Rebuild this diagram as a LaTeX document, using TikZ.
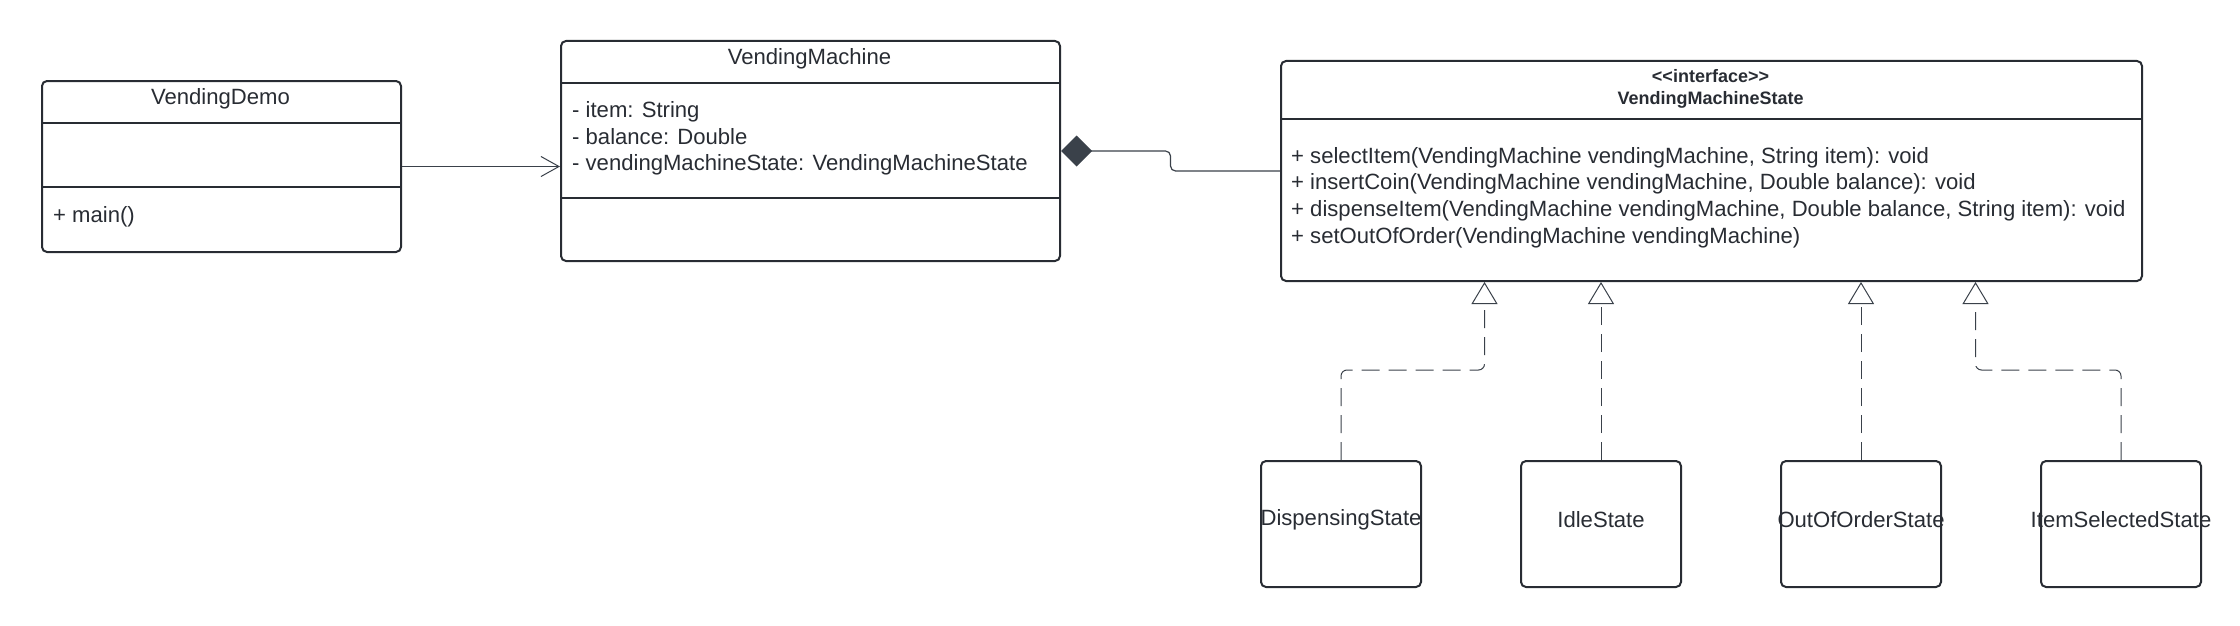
\documentclass[tikz,border=0pt]{standalone}
\usepackage{fontspec}
\setmainfont{Liberation Sans}
\usetikzlibrary{arrows.meta,calc}
\definecolor{ink}{HTML}{282C33}
\definecolor{wire}{HTML}{3A414A}

\begin{document}
\begin{tikzpicture}[x=1pt, y=-1pt,
    classbox/.style={draw=ink, line width=2pt, rounded corners=5pt, anchor=north west, inner sep=0pt},
    rule/.style={draw=ink, line width=2pt},
    txt/.style={text=ink, inner sep=0pt, font=\fontsize{22.1}{26.6}\selectfont},
    head/.style={text=ink, inner sep=0pt, align=center, font=\fontsize{18}{21.4}\selectfont\bfseries},
    assoc/.style={draw=wire, line width=1pt, -{Straight Barb[length=18pt, width=20pt]}},
    comp/.style={draw=wire, line width=1.2pt, rounded corners=5pt, {Diamond[length=31pt, width=31pt, fill=wire]}-},
    realize/.style={draw=wire, line width=1pt, rounded corners=6pt, dash pattern=on 18pt off 9pt,
      -{Triangle[open, length=22pt, width=26pt, fill=white]}}]
  \useasboundingbox (0,0) rectangle (2240,626);

  % classes
  \node[classbox, minimum width=359pt, minimum height=171pt] (demo) at (41,80) {};
  \draw[rule] (41,123) -- (400,123);
  \draw[rule] (41,187) -- (400,187);
  \node[txt] (demotitle) at (220.5,99) {VendingDemo};
  \node[txt, anchor=west] (demoops) at (53,217) {+ main()};

  \node[classbox, minimum width=499pt, minimum height=220pt] (vm) at (560,40) {};
  \draw[rule] (560,83) -- (1059,83);
  \draw[rule] (560,198) -- (1059,198);
  \node[txt] (vmtitle) at (809.5,59) {VendingMachine};
  \node[txt, anchor=west, align=left] (vmattrs) at (572,138.5)
    {- item: String\\- balance: Double\\- vendingMachineState: VendingMachineState};

  \node[classbox, minimum width=861pt, minimum height=220pt] (state) at (1280,60) {};
  \draw[rule] (1280,119) -- (2141,119);
  \node[head] (statetitle) at (1710.5,89) {{<}{<}interface{>}{>}\\VendingMachineState};
  \node[txt, anchor=west, align=left] (stateops) at (1291,197.5)
    {+ selectItem(VendingMachine vendingMachine, String item): void\\
     + insertCoin(VendingMachine vendingMachine, Double balance): void\\
     + dispenseItem(VendingMachine vendingMachine, Double balance, String item): void\\
     + setOutOfOrder(VendingMachine vendingMachine)};

  % states
  \node[classbox, minimum width=160pt, minimum height=126pt] (disp) at (1260,460) {};
  \node[classbox, minimum width=160pt, minimum height=126pt] (idle) at (1520,460) {};
  \node[classbox, minimum width=160pt, minimum height=126pt] (ooo) at (1780,460) {};
  \node[classbox, minimum width=160pt, minimum height=126pt] (sel) at (2040,460) {};
  \node[txt, yshift=4pt] (displabel) at (disp.center) {DispensingState};
  \node[txt, yshift=4pt] (idlelabel) at (idle.center) {IdleState};
  \node[txt, yshift=4pt] (ooolabel) at (ooo.center) {OutOfOrderState};
  \node[txt, yshift=4pt] (sellabel) at (sel.center) {ItemSelectedState};

  % connectors
  \draw[assoc] (demo.east) -- (demo.east -| vm.west);
  \draw[comp] (vm.east) -| ($(vm.east)!.5!(state.west)$) |- (state.west);
  \coordinate (tipdisp) at ([xshift=-227pt]state.south);
  \coordinate (tipsel) at ([xshift=264pt]state.south);
  \draw[realize] (disp.north) -- ++(0,-90) -| (tipdisp);
  \draw[realize] (idle.north) -- (idle.north |- state.south);
  \draw[realize] (ooo.north) -- (ooo.north |- state.south);
  \draw[realize] (sel.north) -- ++(0,-90) -| (tipsel);
\end{tikzpicture}
\end{document}
